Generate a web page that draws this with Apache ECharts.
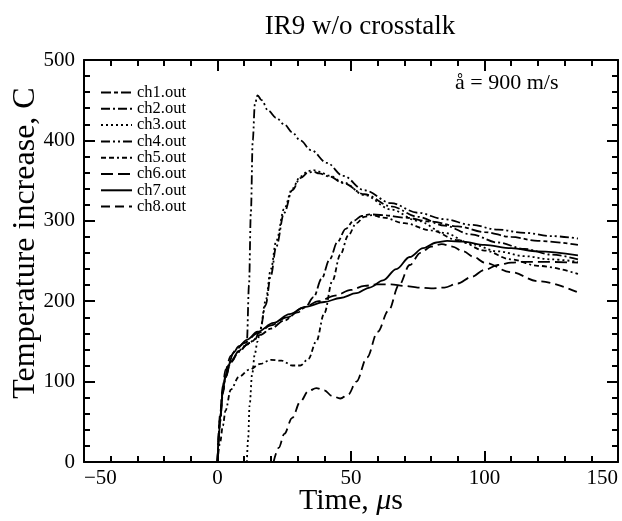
<!DOCTYPE html>
<html>
<head>
<meta charset="utf-8">
<script src="https://cdn.jsdelivr.net/npm/echarts@6/dist/echarts.min.js"></script>
<style>
    html, body { margin: 0; padding: 0; background: #fff; }
    #chart-box { width: 622px; height: 521px; }
</style>
</head>
<body>
<div id="chart-box"></div>
<script>
// channel names
const channels = ["ch1.out", "ch2.out", "ch3.out", "ch4.out", "ch5.out", "ch6.out", "ch7.out", "ch8.out"]

// time (us) / temperature increase (C)
const ch1Time = [0, 1, 2, 3, 5, 8, 12, 16, 20, 25, 30, 33, 36, 39, 42, 45, 48, 51, 54, 57, 62, 70, 80, 90, 100, 110, 120, 135]
const ch1Temp = [0, 55, 88, 106, 125, 138, 148, 158, 166, 176, 186, 193, 205, 228, 252, 274, 290, 300, 306, 308, 307, 304, 299, 293, 286, 280, 275, 270]

const ch2Time = [0, 1, 2, 3, 5, 8, 11, 14, 16, 18, 20, 22, 25, 28, 31, 34, 36, 38, 42, 47, 55, 65, 75, 85, 95, 105, 115, 125, 135]
const ch2Temp = [0, 50, 85, 105, 124, 137, 146, 152, 165, 195, 232, 268, 310, 338, 353, 360, 361, 359, 355, 347, 333, 318, 305, 294, 283, 273, 265, 258, 252]

const ch3Time = [11, 11.5, 12, 13, 14, 15, 16, 18, 20, 22, 25, 28, 31, 34, 36, 38, 42, 47, 55, 65, 75, 85, 95, 105, 115, 125, 135]
const ch3Temp = [0, 30, 70, 110, 135, 150, 165, 200, 240, 275, 315, 340, 355, 362, 363, 361, 356, 348, 332, 314, 300, 285, 271, 262, 256, 252, 249]

const ch4Time = [0, 1, 2, 3, 5, 8, 10, 11, 11.8, 12.5, 13.2, 14, 15, 16.5, 19, 22, 25, 28, 31, 35, 41, 47, 55, 65, 75, 85, 95, 105, 115, 125, 135]
const ch4Temp = [0, 55, 88, 106, 125, 138, 144, 150, 220, 310, 400, 445, 456, 450, 437, 428, 420, 410, 400, 388, 372, 356, 338, 322, 310, 302, 295, 289, 285, 281, 278]

const ch5Time = [0, 1, 2, 3, 5, 8, 12, 16, 20, 24, 28, 31, 34, 37, 40, 43, 46, 49, 52, 55, 58, 62, 70, 80, 90, 100, 110, 120, 135]
const ch5Temp = [0, 25, 45, 64, 90, 106, 115, 122, 127, 126, 120, 120, 128, 150, 185, 225, 258, 282, 297, 305, 307, 304, 297, 288, 276, 263, 252, 244, 234]

const ch6Time = [0, 1, 2, 3, 5, 7, 10, 15, 20, 26, 32, 38, 44, 50, 55, 60, 65, 70, 75, 80, 85, 90, 95, 100, 105, 110, 115, 120, 135]
const ch6Temp = [0, 60, 95, 115, 132, 140, 148, 160, 170, 180, 192, 200, 207, 214, 219, 221, 221, 219, 217, 216, 217, 222, 230, 239, 245, 248, 249, 249, 248]

const ch7Time = [0, 0.5, 1, 2, 3, 4, 6, 8, 11, 15, 21, 27, 33, 40, 46, 52, 57, 62, 67, 72, 77, 82, 86, 92, 100, 110, 120, 135]
const ch7Temp = [0, 30, 55, 90, 108, 120, 136, 144, 152, 162, 173, 184, 193, 199, 204, 210, 217, 226, 240, 255, 266, 273, 275, 274, 270, 266, 262, 257]

const ch8Time = [21, 23, 25, 28, 31, 34, 37, 40, 43, 46, 49, 52, 56, 60, 64, 68, 72, 76, 80, 84, 88, 92, 96, 100, 110, 120, 135]
const ch8Temp = [0, 18, 35, 55, 75, 88, 92, 89, 82, 79, 84, 100, 130, 162, 188, 220, 245, 260, 268, 271, 268, 262, 255, 248, 236, 225, 211]

const times = [ch1Time, ch2Time, ch3Time, ch4Time, ch5Time, ch6Time, ch7Time, ch8Time]
const temps = [ch1Temp, ch2Temp, ch3Temp, ch4Temp, ch5Temp, ch6Temp, ch7Temp, ch8Temp]

// dash pattern per channel
const dashes = [
    [10, 3, 4, 3],          // long-short
    [9, 3, 2, 3],           // dash-dot
    [2, 3],                 // dotted
    [9, 3, 2, 3, 2, 3],     // dash-dot-dot
    [5, 3, 5, 3, 2, 3],     // short dashes + dot
    [12, 5],                // long dash
    "solid",
    [9, 5]                  // dash
]

const serif = "Liberation Serif, Times New Roman, serif"

let chart = echarts.init(document.getElementById("chart-box"))

let series = channels.map(function (name, i) {
    return {
        name: name,
        type: "line",
        data: times[i].map(function (t, k) { return [t, temps[i][k]] }),
        showSymbol: false,
        symbol: "none",
        smooth: 0.35,
        smoothMonotone: "x",
        lineStyle: { color: "#000", width: 1.8, type: dashes[i] },
        itemStyle: { color: "#000" }
    }
})

// frame axes: line + inward ticks on all four sides
function frameAxis(extra) {
    return Object.assign({
        axisLine: { show: true, onZero: false, lineStyle: { color: "#000", width: 2 } },
        axisTick: { show: true, inside: true, length: 11, lineStyle: { color: "#000", width: 2 } },
        minorTick: { show: true, splitNumber: 5, length: 6, lineStyle: { color: "#000", width: 2 } },
        splitLine: { show: false },
        minorSplitLine: { show: false }
    }, extra)
}

let option = {
    backgroundColor: "#fff",
    animation: false,
    title: {
        text: "IR9 w/o crosstalk",
        left: 355,
        textAlign: "center",
        top: 8,
        textStyle: { fontFamily: serif, fontSize: 27, fontWeight: "normal", color: "#000" }
    },
    grid: { left: 84, right: 4, top: 60, bottom: 59, outerBoundsMode: "none", containLabel: false },
    legend: {
        orient: "vertical",
        left: 100,
        top: 84,
        padding: 0,
        itemWidth: 31,
        itemHeight: 13,
        itemGap: -0.7,
        data: channels,
        itemStyle: { opacity: 0 },
        textStyle: { fontFamily: serif, fontSize: 16.5, lineHeight: 13, color: "#000" }
    },
    xAxis: [
        frameAxis({
            type: "value",
            position: "bottom",
            min: -50,
            max: 150,
            interval: 50,
            name: "Time, {i|μ}s",
            nameLocation: "middle",
            nameGap: 24,
            nameMoveOverlap: false,
            nameTextStyle: {
                fontFamily: serif, fontSize: 30, color: "#000", verticalAlign: "top",
                rich: { i: { fontFamily: serif, fontSize: 30, fontStyle: "italic", color: "#000" } }
            },
            axisLabel: {
                fontFamily: serif, fontSize: 21, color: "#000", margin: 6,
                alignMinLabel: "left", alignMaxLabel: "right",
                formatter: function (v) { return String(v).replace("-", "\u2212") }
            }
        }),
        frameAxis({
            type: "value",
            position: "top",
            min: -50,
            max: 150,
            interval: 50,
            axisLabel: { show: false }
        })
    ],
    yAxis: [
        frameAxis({
            type: "value",
            position: "left",
            min: 0,
            max: 500,
            interval: 100,
            name: "Temperature increase, C",
            nameLocation: "middle",
            nameGap: 42,
            nameMoveOverlap: false,
            nameTextStyle: { fontFamily: serif, fontSize: 32, color: "#000", padding: [0, 0, 0, 36] },
            axisLabel: { fontFamily: serif, fontSize: 21, color: "#000", margin: 9 }
        }),
        frameAxis({
            type: "value",
            position: "right",
            min: 0,
            max: 500,
            interval: 100,
            axisLabel: { show: false }
        })
    ],
    graphic: [
        {
            type: "text",
            left: 455,
            top: 72,
            style: { text: "å = 900 m/s", fontFamily: serif, fontSize: 22, fill: "#000" }
        }
    ],
    series: series
}

chart.setOption(option)
</script>
</body>
</html>
